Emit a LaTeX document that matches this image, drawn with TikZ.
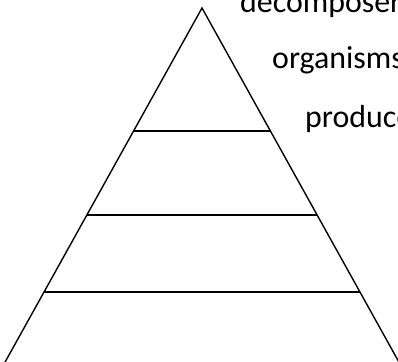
\documentclass[tikz,border=0pt]{standalone}
\usepackage{fontspec}
\setmainfont{Carlito}
\usetikzlibrary{calc}

\begin{document}
\begin{tikzpicture}[x=1bp,y=-1bp]
    \tikzstyle{edge}=[line width=1.4pt,draw=black,line join=miter]
    \tikzstyle{level}=[line width=1.4pt,draw=black]
    \tikzstyle{tier}=[
      anchor=base west,
      inner sep=0pt,
      font=\fontsize{32}{38}\selectfont,
    ]

    \useasboundingbox (0,0) rectangle (398,362);
    \coordinate (apexAnchor) at (202,8);

    % pyramid outline
    {
      \coordinate (apex) at (apexAnchor);
      \coordinate (baseL) at ([xshift=-198bp, yshift=-356bp] apexAnchor);
      \coordinate (baseR) at ([xshift=198bp, yshift=-356bp] apexAnchor);

      \draw[edge] (apex)--(baseR)--(baseL)--cycle;
    }

    % levels
    {
      \coordinate (lvl1L) at ($(apex)!0.3455!(baseL)$);
      \coordinate (lvl1R) at ($(apex)!0.3455!(baseR)$);
      \coordinate (lvl2L) at ($(apex)!0.5815!(baseL)$);
      \coordinate (lvl2R) at ($(apex)!0.5815!(baseR)$);
      \coordinate (lvl3L) at ($(apex)!0.7978!(baseL)$);
      \coordinate (lvl3R) at ($(apex)!0.7978!(baseR)$);

      \draw[level] (lvl1L)--(lvl1R);
      \draw[level] (lvl2L)--(lvl2R);
      \draw[level] (lvl3L)--(lvl3R);
    }

    % labels
    {
      \node[tier] (decomposers) at ([xshift=38bp, yshift=-4bp] apexAnchor) {decomposers};
      \node[tier] (organisms) at ([xshift=70bp, yshift=-60bp] apexAnchor) {organisms};
      \node[tier] (producers) at ([xshift=103bp, yshift=-119bp] apexAnchor) {producers};
    }
\end{tikzpicture}
\end{document}
